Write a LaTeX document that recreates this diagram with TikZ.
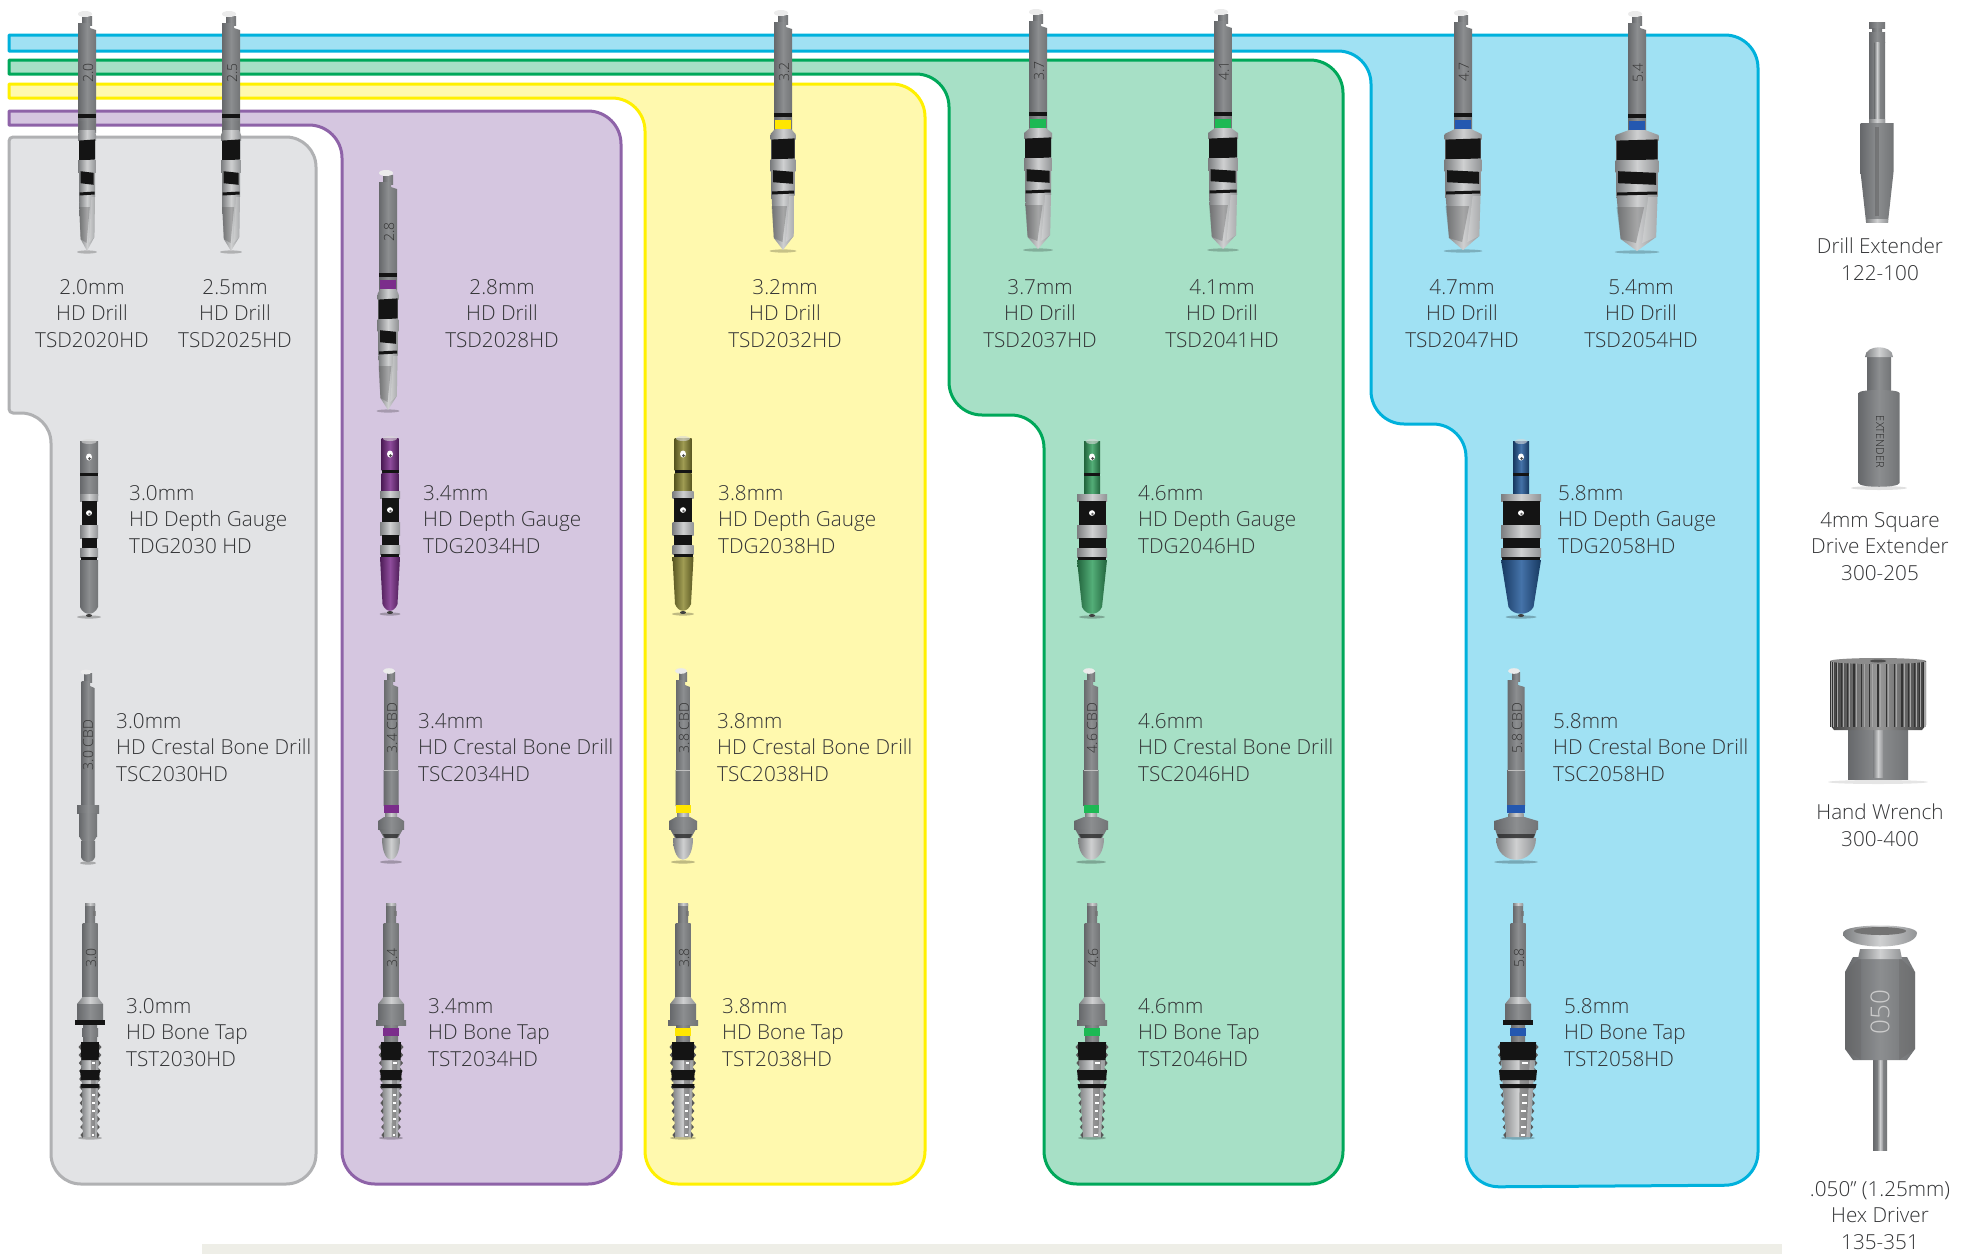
\documentclass[tikz,border=0pt]{standalone}
\usepackage{fontspec}
\setmainfont{Open Sans Light}
\definecolor{txt}{HTML}{333436}
\definecolor{gF}{HTML}{E2E3E5}\definecolor{gS}{HTML}{B0B1B3}
\definecolor{pF}{HTML}{D5C6E0}\definecolor{pS}{HTML}{8E63A8}
\definecolor{yF}{HTML}{FFF9AE}\definecolor{yS}{HTML}{FFF000}
\definecolor{nF}{HTML}{A7E0C6}\definecolor{nS}{HTML}{00A85A}
\definecolor{bF}{HTML}{A0E1F3}\definecolor{bS}{HTML}{00B1DC}
\definecolor{mD}{HTML}{66686B}\definecolor{mM}{HTML}{8C8E90}\definecolor{mE}{HTML}{727476}
\definecolor{sD}{HTML}{7C7E80}\definecolor{sM}{HTML}{CFD0D1}\definecolor{sE}{HTML}{929496}
\definecolor{cPur}{HTML}{7B2D8B}\definecolor{cYel}{HTML}{FFE600}\definecolor{cGrn}{HTML}{1DB954}\definecolor{cBlu}{HTML}{2458B0}
\definecolor{cOli}{HTML}{8F8B35}\definecolor{cGau}{HTML}{35A060}\definecolor{cNav}{HTML}{245A9A}
\tikzset{
  x=1pt,y=-1pt,
  panel/.style={line width=3pt,line join=round},
  metalbar/.style={shade,left color=mD,right color=mE,middle color=mM},
  silverbar/.style={shade,left color=sD,right color=sE,middle color=sM},
  blackbar/.style={fill=black!92},
  tintbar/.style={shade,left color=#1!62!black,right color=#1!62!black,middle color=#1!85!white},
  ringbar/.style={fill=#1},
  tag/.style={inner sep=0pt,rotate=90,text=black!80,font=\fontsize{14}{14}\selectfont},
  lbl/.style={inner sep=0pt,text=txt,font=\fontsize{20.7}{26.6}\selectfont},
}
\newcommand\seg[5]{\path[#1] ({-(#2)},#4) -- ({#2},#4) -- ({#3},#5) -- ({-(#3)},#5) -- cycle;}
\newcommand\band[4]{\path[blackbar] ({-(#1)},{#2+#4}) -- ({#1},{#2-#4}) -- ({#1},{#3-#4}) -- ({-(#1)},{#3+#4}) -- cycle;}
\newcommand\labC[5]{\node[lbl,align=center] (#1) at (#2,#3) {#4\\#5};}
\newcommand\labCC[6]{\node[lbl,align=center] (#1) at (#2,#3) {#4\\#5\\#6};}
\newcommand\labL[6]{\node[lbl,align=left,anchor=west] (#1) at (#2,#3) {#4\\#5\\#6};}
% drill: cx, top, body half width, ring style, label
\newcommand\hddrill[5]{\begin{scope}[shift={(#1,#2)}]
  \fill[black,opacity=.22] (0,241) ellipse ({#3+2} and 1.6);
  \seg{metalbar}{5}{5}{5}{14}
  \fill[white!92!black] (-2,3) ellipse (7 and 3);
  \path[metalbar] (-9,12) -- (3,12) -- (3,17) -- (9,19) -- (9,122) -- (-9,122) -- cycle;
  \node[tag] (tag-#1-#2) at (1,62) {#5};
  \seg{blackbar}{9}{9}{103}{107}
  \seg{#4}{8}{8}{110}{119}
  \seg{silverbar}{8}{#3+1}{119}{124}
  \seg{silverbar}{#3+1}{#3+1}{124}{129}
  \seg{silverbar}{#3}{#3}{129}{185}
  \band{#3}{129}{149}{.6}
  \seg{silverbar}{#3+.8}{#3+.8}{149}{161}
  \band{#3-1.5}{161}{173}{-.8}
  \band{#3-.5}{181}{184}{.5}
  \path[silverbar] ({-(#3)},185) -- ({#3},185) -- ({.93*#3},226) -- (0,240) -- ({-.8*#3},228) -- cycle;
  \path[fill=black!65,opacity=.35] ({-(#3)},196) -- ({.35*#3},196) -- ({-.05*#3},232) -- ({-.8*#3},228) -- cycle;
  \path[fill=white,opacity=.22] ({.55*#3},186) -- ({#3},186) -- ({.93*#3},226) -- ({.25*#3},232) -- cycle;
\end{scope}}
% gauge: cx, top, cap hw, body hw, tip hw, upper style
\newcommand\hdgauge[6]{\begin{scope}[shift={(#1,#2)}]
  \fill[black,opacity=.25] (0,178) ellipse ({#5+5} and 1.6);
  \seg{#6}{#3}{#3}{2}{34}
  \fill[white!85!black,opacity=.6] (0,2.5) ellipse ({#3-1.5} and 2.5);
  \fill[white] (0,18) ellipse (3 and 3.5); \fill[black!70] (0.5,19.5) ellipse (1.5 and 1.5);
  \seg{blackbar}{#3}{#3}{34}{37}
  \seg{#6}{#3}{#3}{37}{56}
  \seg{silverbar}{#4}{#4}{55}{62}
  \seg{blackbar}{#4-1.5}{#4-1.5}{62}{86}
  \fill[white] (0,74) ellipse (3 and 2.8); \fill[black!60] (0.5,75) ellipse (1.3 and 1.3);
  \seg{silverbar}{#4}{#4}{86}{99}
  \seg{blackbar}{#4-1.5}{#4-1.5}{99}{109}
  \seg{silverbar}{#4}{#4}{109}{118}
  \seg{blackbar}{#4-1}{#4-1}{118}{121}
  \path[#6] ({-(#4)},121) -- ({#4},121) -- ({#5+2},168) .. controls ({.75*#5},177) and ({-.75*#5},177) .. ({-(#5)-2},168) -- cycle;
  \fill[black!75] (0,176.5) ellipse (3 and 1.5);
\end{scope}}
% crestal bone drill: cx, top, shank hw, flange hw, dome hw, ring colour, label
\newcommand\hdcbd[7]{\begin{scope}[shift={(#1,#2)}]
  \fill[black,opacity=.25] (0,194) ellipse ({#5+2} and 1.6);
  \seg{metalbar}{4}{4}{4}{13}
  \fill[white!92!black] (-2,3) ellipse (6 and 2.8);
  \path[metalbar] ({-(#3)},12) -- (2,12) -- (2,17) -- ({#3},19) -- ({#3},102) -- ({#3+.5},102) -- ({#3+.5},138) -- ({-(#3)-.5},138) -- ({-(#3)-.5},102) -- ({-(#3)},102) -- cycle;
  \draw[white!75!black,line width=1pt] ({-(#3)},102) -- ({#3},102);
  \node[tag] (tag-#1-#2) at (1,60) {#7};
  \seg{ringbar=#6}{#3+.5}{#3+.5}{137}{145}
  \seg{silverbar}{#3-1}{#3-1}{145}{151}
  \seg{metalbar}{#3}{#4}{149}{153}
  \seg{metalbar}{#4}{#4}{153}{161}
  \seg{metalbar}{#4-1}{#5-2}{161}{170}
  \path[silverbar] ({-(#5)},170) .. controls ({-(#5)},199) and ({#5},199) .. ({#5},170) -- cycle;
  \seg{blackbar,opacity=.6}{#5-1}{#5-3}{166}{170}
\end{scope}}
% the narrow 3.0 crestal drill
\newcommand\hdcbdthin[3]{\begin{scope}[shift={(#1,#2)}]
  \fill[black,opacity=.25] (0,194) ellipse (8 and 1.6);
  \seg{metalbar}{4}{4}{4}{13}
  \fill[white!92!black] (-2,3) ellipse (5.5 and 2.5);
  \path[metalbar] (-6.5,12) -- (2,12) -- (2,17) -- (6.5,19) -- (6.5,137) -- (-6.5,137) -- cycle;
  \node[tag] (tag-#1-#2) at (0,76) {#3};
  \seg{metalbar}{11}{11}{136}{144}
  \seg{metalbar}{9}{9}{144}{167}
  \seg{metalbar}{9}{6}{167}{172}
  \path[metalbar] (-7,172) -- (7,172) -- (7,188) .. controls (5,195) and (-5,195) .. (-7,188) -- cycle;
\end{scope}}
% bone tap: cx, top, shank hw, thread top hw, thread bottom hw, flange style, ring style, label
\newcommand\hdtap[8]{\begin{scope}[shift={(#1,#2)}]
  \fill[black,opacity=.25] (0,235) ellipse ({#5+5} and 1.6);
  \seg{metalbar}{5}{5}{1}{20}
  \path[fill=black!55,opacity=.7] (3,8) rectangle (6,13);
  \seg{silverbar}{5}{5}{0}{2}
  \seg{metalbar}{#3}{#3}{20}{95}
  \node[tag] (tag-#1-#2) at (1,55) {#8};
  \seg{silverbar}{#3}{13}{94}{101}
  \seg{metalbar}{13}{13}{101}{117}
  \seg{#6}{15}{15}{117}{122}
  \seg{metalbar}{7}{7}{122}{140}
  \seg{#7}{8}{8}{125}{133}
  \path[silverbar] ({-(#4)},139) -- ({#4},139) -- ({#5},234) -- ({-(#5)},234) -- cycle;
  \foreach \k in {0,...,11}{
    \pgfmathsetmacro\yy{141+\k*8}
    \pgfmathsetmacro\ww{#4+(#5-#4)*\k/11.5}
    \fill[black!65] ({-\ww},\yy) -- ({-\ww-2.5},{\yy+3}) -- ({-\ww},{\yy+6}) -- cycle;
    \fill[black!65] ({\ww},\yy) -- ({\ww+2.5},{\yy+3}) -- ({\ww},{\yy+6}) -- cycle;
  }
  \path[fill=black!60,opacity=.55] ({.1*#4},139) -- ({.7*#4},139) -- ({.7*#5},234) -- ({.1*#5},234) -- cycle;
  \foreach \k in {0,...,11}{
    \pgfmathsetmacro\yy{141+\k*8}
    \pgfmathsetmacro\ww{#4+(#5-#4)*\k/11.5}
    \fill[white] ({.25*\ww},{\yy+1.5}) rectangle ({.6*\ww},{\yy+4});
  }
  \seg{blackbar}{#4}{#4-.3}{139}{157}
  \seg{blackbar}{#4+1}{#4}{167}{177}
  \seg{blackbar}{#4+.5}{#4-.5}{181}{185}
\end{scope}}
\begin{document}
\begin{tikzpicture}
\useasboundingbox (0,0) rectangle (1978,1254);
\fill[white] (0,0) rectangle (1978,1254);
\definecolor{bandc}{HTML}{EEEEE7}
\fill[bandc] (202,1244) rectangle (1782,1254);
% panels
\draw[panel,draw=bS,fill=bF] (9,51) -- (9,35) [rounded corners=33pt] -- (1758,35) -- (1758,1185) -- (1466,1187) -- (1466,424) [rounded corners=33pt] -- (1371,424) -- (1371,51) [sharp corners] -- (9,51) -- cycle;
\draw[panel,draw=nS,fill=nF] (9,74) -- (9,60) [rounded corners=33pt] -- (1343,60) -- (1343,1184) -- (1044,1184) -- (1044,415) -- (949,415) -- (949,74) [sharp corners] -- (9,74) -- cycle;
\draw[panel,draw=yS,fill=yF] (9,98) -- (9,84) [rounded corners=33pt] -- (925,84) -- (925,1184) -- (645,1184) -- (645,98) [sharp corners] -- (9,98) -- cycle;
\draw[panel,draw=pS,fill=pF] (9,125) -- (9,111) [rounded corners=33pt] -- (621,111) -- (621,1184) -- (342,1184) -- (342,125) [sharp corners] -- (9,125) -- cycle;
\draw[panel,draw=gS,fill=gF] (150,137) [rounded corners=4pt] -- (9,137) -- (9,413) [rounded corners=30pt] -- (51,413) -- (51,1184) -- (316,1184) -- (316,137) -- cycle;
% drills
\hddrill{87}{11}{8}{metalbar}{2.0}
\hddrill{231}{11}{9}{metalbar}{2.5}
\hddrill{388}{170}{9.5}{ringbar=cPur}{2.8}
\hddrill{783}{10}{11.5}{ringbar=cYel}{3.2}
\hddrill{1038}{9}{13}{ringbar=cGrn}{3.7}
\hddrill{1223}{9}{14}{ringbar=cGrn}{4.1}
\hddrill{1463}{10}{17.5}{ringbar=cBlu}{4.7}
\hddrill{1637}{11}{20.5}{ringbar=cBlu}{5.4}
% gauges
\hdgauge{89}{439}{9}{9}{7}{metalbar}
\hdgauge{390}{436}{8.5}{10}{5.5}{tintbar=cPur}
\hdgauge{683}{436}{8.5}{10.5}{6}{tintbar=cOli}
\hdgauge{1092}{439}{8}{15}{8}{tintbar=cGau}
\hdgauge{1521}{439}{8}{20}{10.5}{tintbar=cNav}
% crestal
\hdcbdthin{88}{669}{3.0 CBD}
\hdcbd{391}{668}{7}{13}{9}{cPur}{3.4 CBD}
\hdcbd{683}{668}{7}{14}{10}{cYel}{3.8 CBD}
\hdcbd{1091}{668}{7}{17}{13}{cGrn}{4.6 CBD}
\hdcbd{1516}{668}{8.5}{22}{20}{cBlu}{5.8 CBD}
% taps
\hdtap{90}{903}{7.5}{9}{7}{blackbar}{metalbar}{3.0}
\hdtap{391}{903}{7.5}{10}{7}{metalbar}{ringbar=cPur}{3.4}
\hdtap{683}{903}{7.5}{11}{8}{metalbar}{ringbar=cYel}{3.8}
\hdtap{1092}{903}{7.5}{14}{9}{metalbar}{ringbar=cGrn}{4.6}
\hdtap{1518}{903}{7.5}{18}{12}{blackbar}{ringbar=cBlu}{5.8}
% right column
\begin{scope}[shift={(1877,22)}]
  \seg{metalbar}{8}{8}{0}{6}\seg{metalbar}{5}{5}{6}{10}\seg{metalbar}{8}{8}{10}{20}
  \seg{metalbar}{8}{8}{20}{100}\seg{silverbar}{2.5}{2.5}{20}{100}
  \seg{silverbar}{8}{8}{97}{101}
  \path[metalbar] (-16.5,101) -- (16.5,101) -- (16.5,150) -- (11,200) -- (-11,200) -- (-16.5,150) -- cycle;
  \path[fill=black!70,opacity=.35] (-2,105) -- (2,105) -- (2,194) -- (-2,194) -- cycle;
  \seg{silverbar}{11}{11}{197}{200}
\end{scope}
\begin{scope}[shift={(1879,347)}]
  \fill[black,opacity=.12] (0,141) ellipse (28 and 2);
  \seg{metalbar}{12}{12}{8}{46}
  \path[silverbar] (-14,10) .. controls (-14,-3) and (14,-3) .. (14,10) -- cycle;
  \path[metalbar] (-20.5,46) .. controls (-20.5,42) and (20.5,42) .. (20.5,46) -- (20.5,136) .. controls (20.5,141) and (-20.5,141) .. (-20.5,136) -- cycle;
  \node[inner sep=0pt,rotate=-90,text=black!85,font=\fontsize{11}{11}\selectfont] (ext) at (1,95) {EXTENDER};
\end{scope}
\begin{scope}[shift={(1878,657)}]
  \fill[black,opacity=.1] (0,125) ellipse (50 and 2);
  \seg{metalbar}{30}{30}{70}{122}
  \seg{silverbar}{5}{5}{72}{120}
  \path[left color=black!75,right color=black!75,middle color=black!40,shade] (-48,4) -- (48,4) -- (48,68) -- (44,73) -- (-44,73) -- (-48,68) -- cycle;
  \foreach \a in {-80,-70,...,80}{\draw[black!80,line width=1.1pt] ({48*sin(\a)},5) -- ({48*sin(\a)},70);
    \draw[white!65!black,line width=.8pt] ({48*sin(\a+3)},5) -- ({48*sin(\a+3)},70);}
  \fill[white!55!black] (0,4) ellipse (48 and 3);
  \fill[black!70] (0,4) ellipse (8 and 1.5);
\end{scope}
\begin{scope}[shift={(1880,927)}]
  \seg{metalbar}{7}{7}{133}{223}
  \seg{silverbar}{3}{3}{133}{223}
  \path[metalbar] (-35,45) -- (-27,30) -- (27,30) -- (35,45) -- (35,122) -- (27,133) -- (-27,133) -- (-35,122) -- cycle;
  \path[fill=black!60,opacity=.35] (-35,45) -- (-19,30) -- (-19,133) -- (-35,122) -- cycle;
  \path[fill=black!60,opacity=.35] (35,45) -- (19,30) -- (19,133) -- (35,122) -- cycle;
  \seg{silverbar}{20}{22}{22}{32}
  \path[silverbar] (-37,6) .. controls (-37,-4) and (37,-4) .. (37,6) .. controls (37,24) and (-37,24) .. (-37,6) -- cycle;
  \fill[black!55] (0,4) ellipse (26 and 4);
  \node[inner sep=0pt,rotate=90,text=white!80!black,font=\fontsize{26}{26}\selectfont] (hx) at (0,85) {050};
\end{scope}
% labels
\labCC{a1}{92}{313.5}{2.0mm}{HD Drill}{TSD2020HD}
\labCC{a2}{235}{313.5}{2.5mm}{HD Drill}{TSD2025HD}
\labCC{a3}{502}{313.5}{2.8mm}{HD Drill}{TSD2028HD}
\labCC{a4}{785}{313.5}{3.2mm}{HD Drill}{TSD2032HD}
\labCC{a5}{1040}{313.5}{3.7mm}{HD Drill}{TSD2037HD}
\labCC{a6}{1222}{313.5}{4.1mm}{HD Drill}{TSD2041HD}
\labCC{a7}{1462}{313.5}{4.7mm}{HD Drill}{TSD2047HD}
\labCC{a8}{1641}{313.5}{5.4mm}{HD Drill}{TSD2054HD}
\labL{b1}{129}{519.5}{3.0mm}{HD Depth Gauge}{TDG2030 HD}
\labL{b2}{423}{519.5}{3.4mm}{HD Depth Gauge}{TDG2034HD}
\labL{b3}{718}{519.5}{3.8mm}{HD Depth Gauge}{TDG2038HD}
\labL{b4}{1138}{519.5}{4.6mm}{HD Depth Gauge}{TDG2046HD}
\labL{b5}{1558}{519.5}{5.8mm}{HD Depth Gauge}{TDG2058HD}
\labL{c1}{116}{747.5}{3.0mm}{HD Crestal Bone Drill}{TSC2030HD}
\labL{c2}{418}{747.5}{3.4mm}{HD Crestal Bone Drill}{TSC2034HD}
\labL{c3}{717}{747.5}{3.8mm}{HD Crestal Bone Drill}{TSC2038HD}
\labL{c4}{1138}{747.5}{4.6mm}{HD Crestal Bone Drill}{TSC2046HD}
\labL{c5}{1553}{747.5}{5.8mm}{HD Crestal Bone Drill}{TSC2058HD}
\labL{d1}{126}{1032.5}{3.0mm}{HD Bone Tap}{TST2030HD}
\labL{d2}{428}{1032.5}{3.4mm}{HD Bone Tap}{TST2034HD}
\labL{d3}{722}{1032.5}{3.8mm}{HD Bone Tap}{TST2038HD}
\labL{d4}{1138}{1032.5}{4.6mm}{HD Bone Tap}{TST2046HD}
\labL{d5}{1564}{1032.5}{5.8mm}{HD Bone Tap}{TST2058HD}
\labC{e1}{1880}{259.5}{Drill Extender}{122-100}
\labCC{e2}{1880}{546.5}{4mm Square}{Drive Extender}{300-205}
\labC{e3}{1880}{825.5}{Hand Wrench}{300-400}
\labCC{e4}{1880}{1215.5}{.050” (1.25mm)}{Hex Driver}{135-351}
\end{tikzpicture}
\end{document}
